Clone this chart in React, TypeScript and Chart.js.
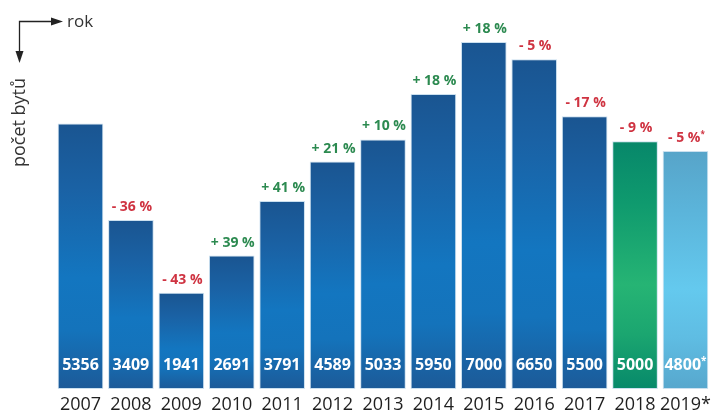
import React, { useEffect, useRef } from "react";
import { Chart, registerables } from "chart.js";

Chart.register(...registerables);

const years = ["2007", "2008", "2009", "2010", "2011", "2012", "2013", "2014", "2015", "2016", "2017", "2018", "2019*"];
const flats = [5356, 3409, 1941, 2691, 3791, 4589, 5033, 5950, 7000, 6650, 5500, 5000, 4800];
const valueLabels = ["5356", "3409", "1941", "2691", "3791", "4589", "5033", "5950", "7000", "6650", "5500", "5000", "4800*"];
const changeLabels = ["", "- 36 %", "- 43 %", "+ 39 %", "+ 41 %", "+ 21 %", "+ 10 %", "+ 18 %", "+ 18 %", "- 5 %", "- 17 %", "- 9 %", "- 5 %*"];

const FONT = "'Open Sans', 'Noto Sans', sans-serif";

const palettes: Record<string, string[]> = {
  blue: ["#1a5591", "#1a62a5", "#1376c0", "#1473bb", "#1c5a98"],
  green: ["#07876a", "#0f9a6e", "#26b474", "#1ba670", "#07896a"],
  light: ["#57a4c9", "#5bb4da", "#64c9ee", "#5fbde3", "#57a7cd"],
};
const paletteFor = (year: string) => (year === "2018" ? "green" : year === "2019*" ? "light" : "blue");

// draws text centred at x, with a trailing "*" rendered as a small superscript
function drawStarred(ctx: any, text: string, x: number, y: number, size: number) {
  const star = text.endsWith("*");
  const main = star ? text.slice(0, -1) : text;
  ctx.font = `bold ${size}px ${FONT}`;
  const w = ctx.measureText(main).width;
  const sSize = Math.round(size * 0.6);
  let sw = 0;
  if (star) {
    ctx.font = `bold ${sSize}px ${FONT}`;
    sw = ctx.measureText("*").width;
  }
  const left = x - (w + sw) / 2;
  ctx.textAlign = "left";
  ctx.font = `bold ${size}px ${FONT}`;
  ctx.fillText(main, left, y);
  if (star) {
    ctx.font = `bold ${sSize}px ${FONT}`;
    ctx.fillText("*", left + w, y - size * 0.25);
  }
}

const labelsPlugin = {
  id: "barLabels",
  afterDatasetsDraw(chart: any) {
    const ctx = chart.ctx;
    const meta = chart.getDatasetMeta(0);
    const base = chart.scales.y.getPixelForValue(0);
    ctx.save();
    meta.data.forEach((el: any, i: number) => {
      ctx.textBaseline = "middle";
      ctx.fillStyle = "#ffffff";
      drawStarred(ctx, valueLabels[i], el.x, base - 23.5, 16);
      const ch = changeLabels[i];
      if (ch) {
        ctx.fillStyle = ch.startsWith("+") ? "#2c8a50" : "#cf3341";
        drawStarred(ctx, ch, el.x + 1, el.y - 13, 14);
      }
    });
    ctx.restore();
  },
};

const annotPlugin = {
  id: "axisAnnot",
  afterDraw(chart: any) {
    const ctx = chart.ctx;
    ctx.save();
    ctx.strokeStyle = "#222";
    ctx.fillStyle = "#222";
    ctx.lineWidth = 1.3;
    ctx.beginPath();
    ctx.moveTo(53, 21.5);
    ctx.lineTo(19.5, 21.5);
    ctx.lineTo(19.5, 53);
    ctx.stroke();
    ctx.beginPath();
    ctx.moveTo(63, 21.5);
    ctx.lineTo(51, 17.5);
    ctx.lineTo(51, 25.5);
    ctx.closePath();
    ctx.fill();
    ctx.beginPath();
    ctx.moveTo(19.5, 63);
    ctx.lineTo(15.5, 51);
    ctx.lineTo(23.5, 51);
    ctx.closePath();
    ctx.fill();
    ctx.fillStyle = "#333";
    ctx.font = `17px ${FONT}`;
    ctx.textAlign = "left";
    ctx.textBaseline = "alphabetic";
    ctx.fillText("rok", 67, 27);
    ctx.font = `18px ${FONT}`;
    ctx.translate(25, 122.5);
    ctx.rotate(-Math.PI / 2);
    ctx.textAlign = "center";
    ctx.fillText("počet bytů", 0, 0);
    ctx.restore();
  },
};

export default function App() {
  const ref = useRef<HTMLCanvasElement | null>(null);
  useEffect(() => {
    if (!ref.current) return;
    const chart = new Chart(ref.current, {
      type: "bar",
      data: {
        labels: years,
        datasets: [
          {
            data: flats,
            backgroundColor: (c: any) => {
              const chart = c.chart;
              const y = chart.scales?.y;
              const pal = palettes[paletteFor(years[c.dataIndex] ?? "")];
              if (!y || c.raw == null) return pal[2];
              const top = y.getPixelForValue(c.raw);
              const bottom = y.getPixelForValue(0);
              if (!Number.isFinite(top) || !Number.isFinite(bottom) || top === bottom) return pal[2];
              const g = chart.ctx.createLinearGradient(0, top, 0, bottom);
              g.addColorStop(0, pal[0]);
              g.addColorStop(0.25, pal[1]);
              g.addColorStop(0.58, pal[2]);
              g.addColorStop(0.78, pal[3]);
              g.addColorStop(1, pal[4]);
              return g;
            },
            borderColor: "rgba(200,222,238,0.95)",
            borderWidth: 1,
            borderSkipped: false,
            barPercentage: 0.905,
            categoryPercentage: 1,
          },
        ],
      },
      options: {
        responsive: false,
        animation: false,
        layout: { padding: { top: 42, left: 55.3, right: 0, bottom: 0 } },
        plugins: { legend: { display: false }, tooltip: { enabled: false }, title: { display: false } },
        scales: {
          x: {
            grid: { display: false, drawTicks: false },
            border: { display: false },
            ticks: {
              color: "#1f1f1f",
              font: { family: FONT, size: 18 },
              padding: 5,
              autoSkip: false,
              maxRotation: 0,
            },
            afterFit: (s: any) => {
              s.height = 21;
            },
          },
          y: { display: false, min: 0, max: 7000 },
        },
      },
      plugins: [labelsPlugin, annotPlugin],
    });
    return () => chart.destroy();
  }, []);
  return (
    <div style={{ position: "fixed", left: 0, top: 0, width: 712, height: 410, overflow: "hidden", background: "#fff" }}>
      <canvas ref={ref} width={716} height={410} style={{ width: 716, height: 410, display: "block" }} />
    </div>
  );
}
